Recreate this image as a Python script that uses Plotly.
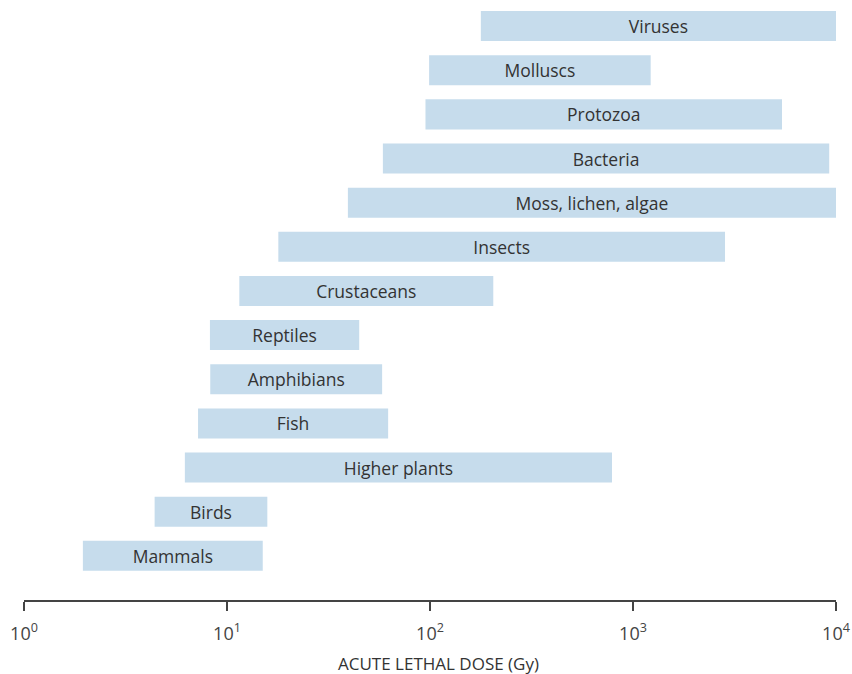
import plotly.graph_objects as go

groups = ["Mammals", "Birds", "Higher plants", "Fish", "Amphibians", "Reptiles",
          "Crustaceans", "Insects", "Moss, lichen, algae", "Bacteria", "Protozoa",
          "Molluscs", "Viruses"]
dose_min = [1.95, 4.4, 6.2, 7.2, 8.27, 8.24, 11.5, 17.9, 39.4, 58.6, 95, 99, 178]
dose_max = [15.0, 15.8, 788, 62.2, 58.1, 44.8, 205, 2840, 10000, 9260, 5420, 1222, 10000]
tick_vals = [1, 10, 100, 1000, 10000]
tick_text = ["10<sup>0</sup>", "10<sup>1</sup>", "10<sup>2</sup>", "10<sup>3</sup>", "10<sup>4</sup>"]
x_title = "ACUTE LETHAL DOSE (Gy)"

widths = [hi - lo for lo, hi in zip(dose_min, dose_max)]

fig = go.Figure(go.Bar(
    y=groups, x=widths, base=dose_min, orientation="h",
    marker=dict(color="#c6dcec", line=dict(width=0)),
    width=0.68,
    text=groups, textposition="inside", insidetextanchor="middle",
    constraintext="none",
    textfont=dict(family="Open Sans", size=17.5, color="#333333"),
    hoverinfo="skip",
))

fig.update_layout(
    width=852, height=674,
    margin=dict(l=24, r=16, t=4, b=74),
    paper_bgcolor="white", plot_bgcolor="white",
    showlegend=False,
    font=dict(family="Open Sans", color="#333333"),
    xaxis=dict(
        type="log", range=[0, 4],
        tickvals=tick_vals, ticktext=tick_text,
        showgrid=False, zeroline=False,
        showline=True, linecolor="#444444", linewidth=2,
        ticks="outside", ticklen=9, tickwidth=2, tickcolor="#444444",
        tickfont=dict(size=18, color="#444444"),
        ticklabelstandoff=7,
        automargin=False,
    ),
    yaxis=dict(
        type="category", categoryorder="array", categoryarray=groups,
        range=[-1, 12.5], visible=False,
    ),
    annotations=[dict(
        text=x_title, xref="paper", yref="paper", x=0.511, y=0,
        yshift=-63, xanchor="center", yanchor="middle", showarrow=False,
        font=dict(family="Open Sans", size=17, color="#333333"),
    )],
)

fig.write_html("out.html", config={"displayModeBar": False},
               post_script="document.body.style.margin='0';document.body.style.padding='0';")
